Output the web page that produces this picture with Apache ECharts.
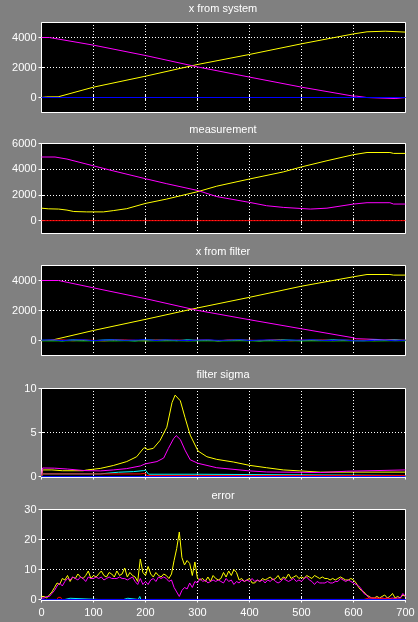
<!DOCTYPE html>
<html>
<head>
<meta charset="utf-8">
<title>kalman filter run</title>
<script src="https://cdn.jsdelivr.net/npm/echarts@6/dist/echarts.min.js"></script>
<style>
    html, body{
        margin: 0;
        padding: 0;
        background: #808080;
    }
    #main{
        width: 418px;
        height: 622px;
    }
</style>
</head>
<body>
<div id="main"></div>
<script>
    // panel titles and tick labels
    var titles = ['x from system', 'measurement', 'x from filter', 'filter sigma', 'error'];
    var xTicks = [0, 100, 200, 300, 400, 500, 600, 700];
    var yTicks = [[0, 2000, 4000], [0, 2000, 4000, 6000], [0, 2000, 4000], [0, 5, 10], [0, 10, 20, 30]];
    var yMin = [-1000, -1000, -1000, -0.11, -0.34];
    var yMax = [5000, 6000, 5000, 10, 30];

    // x from system
    var sysYellow = [[0,0],[10,40],[32,45],[100,690],[200,1420],[300,2200],[400,2870],[500,3580],[600,4240],[626,4380],[628,4420],[661,4420],[663,4360],[700,4360]];
    var sysMagenta = [[0,4000],[15,4000],[100,3490],[200,2800],[300,2040],[400,1360],[500,690],[600,90],[606,90],[608,0],[625,0],[627,-70],[680,-70],[682,0],[700,0]];
    var sysBlue = [[0,0],[700,0]];

    // measurement
    var measYellow = [[0,970],[13,920],[33,900],[49,820],[62,710],[87,680],[119,680],[138,780],[164,930],[200,1340],[241,1680],[301,2260],[337,2680],[400,3240],[465,3790],[500,4180],[549,4660],[600,5130],[626,5300],[670,5300],[677,5230],[700,5230]];
    var measMagenta = [[0,4950],[26,4950],[49,4790],[74,4530],[100,4260],[138,3870],[200,3260],[241,2870],[301,2340],[337,1870],[400,1420],[433,1160],[465,1030],[517,900],[549,970],[600,1290],[626,1395],[670,1395],[677,1290],[700,1290]];
    var measRed = [[0,0],[700,0]];

    // x from filter
    var filtYellow = [[0,0],[17,0],[18,70],[100,670],[200,1410],[300,2170],[400,2880],[500,3620],[600,4250],[626,4400],[670,4400],[677,4360],[700,4360]];
    var filtMagenta = [[0,4000],[33,4000],[100,3510],[200,2790],[300,2010],[400,1385],[500,780],[600,180],[605,120],[607,0],[700,0]];
    var filtX = [0,20,40,60,80,100,120,140,160,180,200,220,240,260,280,300,320,340,360,380,400,420,440,460,480,500,520,540,560,580,600,620,640,660,680,700];
    var filtCyan = [10,30,-20,40,20,-10,30,50,10,-20,40,20,30,-10,40,10,30,-20,20,40,10,-20,30,40,20,-10,30,10,40,20,0,-10,30,20,40,10];
    var filtRed = [-10,20,40,-20,30,10,-30,20,40,10,-20,30,10,40,-10,20,30,-20,40,10,20,-10,40,20,-20,30,10,40,-10,20,10,20,-10,30,10,20];
    var filtGreen = [-20,-25,-20,-15,-25,-20,-20,-25,-15,-20,-25,-20,-20,-15,-25,-20,-20,-25,-20,-15,-20,-25,-20,-20,-15,-25,-20,-20,-25,-20,-20,-20,-25,-20,-15,-20];
    var filtBlue = [20,40,0,30,50,-10,20,40,10,30,50,0,40,20,-10,30,40,10,20,50,0,30,40,-10,20,30,50,10,0,40,-20,-20,10,30,-20,20];

    // filter sigma
    var sigYellow = [[0,0.02],[2,0.75],[20,0.75],[40,0.66],[80,0.66],[88,0.75],[113,0.92],[138,1.25],[164,1.7],[183,2.25],[196,3.2],[200,3.3],[203,3.05],[215,3.2],[228,4.1],[241,5.6],[251,8.4],[257,9.25],[260,9.1],[267,8.6],[276,6.7],[286,4.7],[301,2.9],[318,2.25],[337,1.95],[369,1.65],[400,1.27],[433,1.0],[465,0.75],[497,0.64],[536,0.5],[700,0.5]];
    var sigMagenta = [[0,0.02],[2,0.97],[25,0.95],[50,0.85],[81,0.68],[113,0.64],[138,0.75],[164,0.9],[190,1.2],[200,1.45],[209,1.55],[222,1.7],[235,2.1],[244,3.2],[254,4.3],[259,4.65],[267,4.2],[276,3.0],[286,1.9],[301,1.5],[337,1.0],[400,0.64],[433,0.52],[497,0.48],[536,0.45],[538,0.6],[587,0.6],[589,0.75],[700,0.75]];
    var sigCyan = [[0,0.02],[2,0.3],[113,0.3],[114,0.37],[148,0.49],[177,0.56],[196,0.67],[200,0.72],[203,0.75],[206,0.26],[301,0.26],[303,0.12],[700,0.12]];
    var sigRed = [[0,0.02],[2,0.3],[190,0.3],[192,0.37],[200,0.37],[202,0.12],[700,0.12]];
    var sigGreen = [[0,0],[700,0]];
    var sigBlue = [[0,0],[700,0]];

    // error
    var errX = [0,5,10,15,20,25,30,35,40,45,50,55,60,65,70,75,80,85,90,95,100,105,110,115,120,125,130,135,140,145,150,155,160,165,170,175,180,185,190,195,200,205,210,215,220,225,230,235,240,245,250,255,260,265,270,275,280,285,290,295,300,305,310,315,320,325,330,335,340,345,350,355,360,365,370,375,380,385,390,395,400,405,410,415,420,425,430,435,440,445,450,455,460,465,470,475,480,485,490,495,500,505,510,515,520,525,530,535,540,545,550,555,560,565,570,575,580,585,590,595,600,605,610,615,620,625,630,635,640,645,650,655,660,665,670,675,680,685,690,695,700];
    var errYellow = [1,1,0.5,1.5,2.5,4,5.5,5,7,6.5,8,6,7.5,7,8.5,7.5,7,8,9.5,7,8,7.5,8.5,9.5,8,7.5,9,8.5,7.5,9.5,8,8.5,10.5,7.5,9,8,7.5,6,13.5,9,8,11,8.5,7.5,9,8,7.5,8.5,8,7,8.5,13,17,22.5,14,11.5,13,12,8,12.5,7,6.5,7,6,7.5,6,8,7,6.5,7,9,7.5,9.5,8,10,9,6.5,7,6,6.5,7,5.5,5.5,6.5,6,7,6.5,7,7.5,6.5,7,8,6.5,7.5,7,8.5,7,7.5,8,7,7.5,7,8,7.5,7,8,7.5,7,7.5,7,7,6.5,7,6.5,7,7.5,7,6.5,6.5,7,6.5,5.5,4,3,2.5,1.5,1,0.5,0.5,1,0.5,1,1.5,0.5,1,2,0.5,1,0.5,1.5,1];
    var errMagenta = [0.5,0.5,1,1,2,3,4.5,5.5,4.5,6,7,6.5,7.5,7,6.5,7.5,7,6,7.5,7,7,7.5,7,7.5,6.5,7,7.5,7,7,7,7.5,7,7,6.5,7,7.5,6,5,7,5,6,5,6.5,7,6,7.5,7,7.5,7,6,6.5,4,2.5,1,3,4,3.5,5.5,4,6,5.5,7,6,6.5,5.5,6,6.5,6,6.5,6,5.5,7,6,6.5,5,6,5.5,6.5,6,6.5,6,7,6,6.5,6,6.5,5.5,6.5,6,7,6,5.5,6,7,6.5,6,6.5,7,6,6.5,6,7,7.5,6.5,6,5,6,5.5,5.5,5.5,6,5.5,5.5,6,6,7,6.5,6,6.5,6,5.5,5,4.5,3.5,2,1.5,0.5,0.5,0.3,0.5,0.3,0.5,0.3,0.5,0.3,0.5,0.3,0.5,0.5,2,1];
    var errCyan = [[0,0],[45,0],[47,0.4],[55,0.4],[57,0],[110,0],[112,0.4],[116,0],[158,0],[160,0.4],[166,0.4],[168,0],[186,0],[189,1.0],[191,0],[255,0],[257,0.5],[259,0],[406,0],[408,0.4],[410,0],[603,0],[605,0.4],[607,0],[700,0]];
    var errRed = [[0,0],[30,0],[32,0.7],[37,0.7],[39,0],[534,0],[536,0.5],[538,0],[620,0],[622,0.5],[630,0.5],[632,0],[700,0]];
    var errBlue = [[0,0],[700,0]];

    function pairs(xs, ys){
        var out = [];
        for (var i = 0; i < xs.length; i++) out.push([xs[i], ys[i]]);
        return out;
    }
    function plain(v){
        return String(v);
    }

    // half pixel offsets keep the 1px lines crisp
    var tops = [22.5, 143.5, 265.5, 388.5, 509.5];
    var heights = [90, 90, 90, 89, 91];
    var font = 'Liberation Sans, Arial, sans-serif';
    // dashOffset lines the 1px dots up with the pixel grid
    var dots = {color: '#fff', type: [1, 2], dashOffset: 0.5, width: 1};
    var tick = {show: true, inside: true, length: 3, lineStyle: {color: '#fff'}};

    var grids = [], xAxes = [], yAxes = [], titleList = [];
    for (var i = 0; i < 5; i++) {
        grids.push({
            left: 41.5, right: 12.5, top: tops[i], height: heights[i],
            show: true, backgroundColor: '#000', borderColor: '#fff', borderWidth: 1
        });
        titleList.push({
            text: titles[i], left: 223, top: Math.round(tops[i]) - 20, textAlign: 'center', padding: 0,
            textStyle: {color: '#fff', fontSize: 11, fontWeight: 'normal', fontFamily: font}
        });
        // bottom + top x axes
        xAxes.push({
            type: 'value', gridIndex: i, min: 0, max: 700, interval: 100,
            axisLine: {show: false},
            axisTick: tick,
            splitLine: {show: true, lineStyle: dots},
            axisLabel: {show: i === 4, color: '#fff', fontSize: 11, fontFamily: font, margin: 7,
                customValues: xTicks, formatter: plain}
        });
        xAxes.push({
            type: 'value', gridIndex: i, position: 'top', min: 0, max: 700, interval: 100,
            axisLine: {show: false}, axisTick: tick,
            splitLine: {show: false}, axisLabel: {show: false}
        });
        // left + right y axes
        yAxes.push({
            type: 'value', gridIndex: i, min: yMin[i], max: yMax[i],
            axisLine: {show: false},
            axisTick: {show: true, inside: true, length: 3, lineStyle: {color: '#fff'}, customValues: yTicks[i]},
            splitLine: {show: true, lineStyle: dots},
            axisLabel: {color: '#fff', fontSize: 11, fontFamily: font, margin: 5,
                customValues: yTicks[i], formatter: plain}
        });
        yAxes.push({
            type: 'value', gridIndex: i, position: 'right', min: yMin[i], max: yMax[i],
            axisLine: {show: false},
            axisTick: {show: true, inside: true, length: 3, lineStyle: {color: '#fff'}, customValues: yTicks[i]},
            splitLine: {show: false}, axisLabel: {show: false}
        });
    }

    var series = [];
    function addLine(panel, data, color){
        series.push({
            type: 'line', xAxisIndex: panel * 2, yAxisIndex: panel * 2, data: data,
            showSymbol: false, symbol: 'none', silent: true, z: 5,
            lineStyle: {color: color, width: 1}
        });
    }
    addLine(0, sysYellow, '#ffff00');
    addLine(0, sysMagenta, '#ff00ff');
    addLine(0, sysBlue, '#0000ff');

    addLine(1, measYellow, '#ffff00');
    addLine(1, measMagenta, '#ff00ff');
    addLine(1, measRed, '#ff0000');

    addLine(2, filtYellow, '#ffff00');
    addLine(2, filtMagenta, '#ff00ff');
    addLine(2, pairs(filtX, filtCyan), '#00ffff');
    addLine(2, pairs(filtX, filtRed), '#ff0000');
    addLine(2, pairs(filtX, filtGreen), '#00ff00');
    addLine(2, pairs(filtX, filtBlue), '#0000ff');

    addLine(3, sigYellow, '#ffff00');
    addLine(3, sigMagenta, '#ff00ff');
    addLine(3, sigCyan, '#00ffff');
    addLine(3, sigRed, '#ff0000');
    addLine(3, sigGreen, '#00ff00');
    addLine(3, sigBlue, '#0000ff');

    addLine(4, pairs(errX, errYellow), '#ffff00');
    addLine(4, pairs(errX, errMagenta), '#ff00ff');
    addLine(4, errCyan, '#00ffff');
    addLine(4, errRed, '#ff0000');
    addLine(4, errBlue, '#0000ff');

    var myChart = echarts.init(document.getElementById('main'));
    myChart.setOption({
        backgroundColor: '#808080',
        animation: false,
        title: titleList,
        grid: grids,
        xAxis: xAxes,
        yAxis: yAxes,
        series: series
    });
</script>
</body>
</html>
